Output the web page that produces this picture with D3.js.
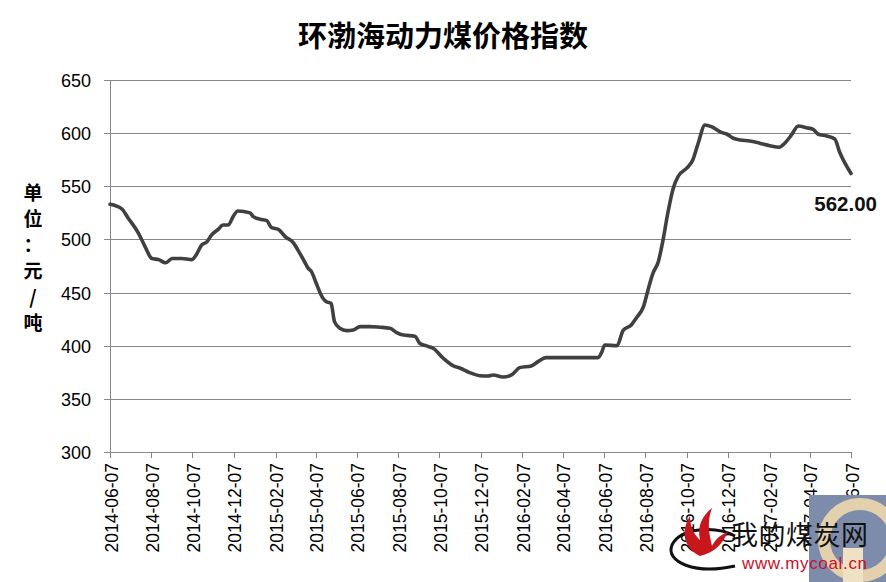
<!DOCTYPE html>
<html>
<head>
<meta charset="utf-8">
<script src="https://cdn.jsdelivr.net/npm/d3@7/dist/d3.min.js"></script>
<style>
  html, body { margin: 0; padding: 0; background: #fff; }
  svg { display: block; }
</style>
</head>
<body>
<svg id="chart" width="886" height="582"></svg>
<script>
// ---------------- data ----------------
const title = "环渤海动力煤价格指数";
const yAxisLabel = ["单", "位", "：", "元", "/", "吨"];
const yTicks = [300, 350, 400, 450, 500, 550, 600, 650];
const xTickLabels = [
  "2014-06-07","2014-08-07","2014-10-07","2014-12-07","2015-02-07","2015-04-07",
  "2015-06-07","2015-08-07","2015-10-07","2015-12-07","2016-02-07","2016-04-07",
  "2016-06-07","2016-08-07","2016-10-07","2016-12-07","2017-02-07","2017-04-07","2017-06-07"
];
const dates = [
  "2014-06-07","2014-06-24","2014-07-04","2014-07-19","2014-07-29","2014-08-08","2014-08-18","2014-08-28",
  "2014-09-07","2014-09-21","2014-10-06","2014-10-11","2014-10-21","2014-10-28","2014-11-04","2014-11-14",
  "2014-11-21","2014-11-29","2014-12-06","2014-12-13","2014-12-31","2015-01-05","2015-01-15","2015-01-25",
  "2015-02-01","2015-02-11","2015-02-21","2015-03-05","2015-03-12","2015-03-20","2015-03-27","2015-04-01",
  "2015-04-08","2015-04-18","2015-04-23","2015-04-30","2015-05-05","2015-05-13","2015-05-23","2015-06-02",
  "2015-06-12","2015-06-26","2015-07-11","2015-07-26","2015-08-05","2015-08-15","2015-09-01","2015-09-08",
  "2015-09-18","2015-09-28","2015-10-13","2015-10-28","2015-11-07","2015-11-21","2015-12-06","2015-12-18",
  "2015-12-26","2016-01-09","2016-01-22","2016-02-03","2016-02-20","2016-03-01","2016-03-13","2016-04-17",
  "2016-05-29","2016-06-03","2016-06-08","2016-06-26","2016-07-05","2016-07-17","2016-07-25","2016-08-04",
  "2016-08-11","2016-08-18","2016-08-26","2016-09-02","2016-09-09","2016-09-17","2016-09-24","2016-10-07",
  "2016-10-16","2016-10-24","2016-11-03","2016-11-13","2016-11-28","2016-12-05","2016-12-15","2016-12-25",
  "2017-01-08","2017-01-23","2017-02-07","2017-02-21","2017-03-01","2017-03-11","2017-03-21","2017-04-02",
  "2017-04-12","2017-04-19","2017-05-02","2017-05-14","2017-05-21","2017-06-07"
];
const values = [
  533, 529, 520, 506, 493, 482, 481, 478,
  482, 482, 481, 484, 495, 497.5, 504, 509.5,
  513.6, 513.6, 521.4, 526.8, 525, 521.4, 519, 517.6,
  511, 509.5, 502.6, 497, 490, 481, 473, 469.7,
  458.7, 444.6, 441.4, 440, 422.7, 416.4, 414.2, 414.8,
  418, 418, 417.4, 416.4, 412.3, 410, 409, 402.3,
  399.8, 397.6, 388.2, 381, 378.8, 374.7, 371.8, 371.5,
  372.5, 370.5, 372.5, 379.4, 381, 385, 388.8, 388.8,
  388.8, 393.5, 400.7, 400, 414.5, 419.5, 426.5, 436.8,
  453, 468, 479, 499.5, 524.6, 548, 559, 567,
  574.7, 590.5, 607.7, 606, 600.5, 599.2, 595.2, 593.6,
  592.6, 590.5, 588.2, 586.7, 590.5, 598.3, 606.7, 605.1,
  603.6, 599.2, 597.3, 594.5, 582.5, 562
];
const endLabel = "562.00";

// ---------------- chart ----------------
const svg = d3.select("#chart");
const parse = d3.timeParse("%Y-%m-%d");
const fmt = d3.timeFormat("%Y-%m-%d");
const data = dates.map((d, i) => ({ date: parse(d), value: values[i] }));

const plotL = 110, plotR = 851, plotT = 80, plotB = 452;
const x = d3.scaleTime()
  .domain([parse(xTickLabels[0]), parse(xTickLabels[xTickLabels.length - 1])])
  .range([plotL, plotR]);
const y = d3.scaleLinear().domain([300, 650]).range([plotB, plotT]);

const gridColor = "#868686";

// gridlines
svg.append("g")
  .attr("transform", `translate(${plotL},0)`)
  .call(d3.axisLeft(y).tickValues(yTicks.filter(v => v !== 300)).tickSize(-(plotR - plotL)).tickFormat(""))
  .call(g => g.select(".domain").remove())
  .call(g => g.selectAll("line").attr("stroke", gridColor).attr("stroke-width", 1).attr("shape-rendering", "crispEdges"));

// y axis
svg.append("g")
  .attr("transform", `translate(${plotL},0)`)
  .call(d3.axisLeft(y).tickValues(yTicks).tickSize(6).tickSizeOuter(0).tickPadding(13))
  .call(g => g.select(".domain").attr("stroke", gridColor).attr("shape-rendering", "crispEdges"))
  .call(g => g.selectAll("line").attr("stroke", gridColor).attr("shape-rendering", "crispEdges"))
  .call(g => g.selectAll("text")
    .attr("font-family", "'Liberation Sans', Arial, sans-serif")
    .attr("font-size", 18).attr("fill", "#000").attr("dy", "0.36em"));

// x axis
const xAxis = svg.append("g")
  .attr("transform", `translate(0,${plotB})`)
  .call(d3.axisBottom(x).tickValues(xTickLabels.map(parse)).tickFormat(fmt).tickSize(6).tickSizeOuter(0));
xAxis.select(".domain").attr("stroke", gridColor).attr("shape-rendering", "crispEdges");
xAxis.selectAll("line").attr("stroke", gridColor).attr("shape-rendering", "crispEdges");
xAxis.selectAll("text")
  .attr("font-family", "'Liberation Sans Narrow', 'Liberation Sans', Arial, sans-serif")
  .attr("font-size", 17.5).attr("fill", "#000")
  .attr("text-anchor", "end")
  .attr("dy", 0).attr("y", 0)
  .attr("transform", "translate(7,11) rotate(-90)");

// line
const line = d3.line()
  .x(d => x(d.date))
  .y(d => y(d.value))
  .curve(d3.curveMonotoneX);
svg.append("path")
  .datum(data)
  .attr("d", line)
  .attr("fill", "none")
  .attr("stroke", "#404040")
  .attr("stroke-width", 3.6)
  .attr("stroke-linejoin", "round")
  .attr("stroke-linecap", "round");

// end label
const last = data[data.length - 1];
svg.append("text")
  .attr("x", x(last.date) + 26)
  .attr("y", y(last.value) + 37)
  .attr("text-anchor", "end")
  .attr("font-family", "'Liberation Sans', Arial, sans-serif")
  .attr("font-weight", "bold")
  .attr("font-size", 20.5)
  .attr("fill", "#111")
  .text(endLabel);

// title
svg.append("text")
  .attr("x", 443)
  .attr("y", 47)
  .attr("text-anchor", "middle")
  .attr("font-family", "'Noto Sans CJK SC', sans-serif")
  .attr("font-weight", "bold")
  .attr("font-size", 29)
  .attr("fill", "#000")
  .text(title);

// y axis label (vertical, one char per row)
svg.append("g").selectAll("text")
  .data(yAxisLabel)
  .join("text")
  .attr("x", 33)
  .attr("y", (d, i) => 200 + i * 26)
  .attr("text-anchor", "middle")
  .attr("font-family", "'Noto Sans CJK SC', sans-serif")
  .attr("font-weight", "bold")
  .attr("font-size", 19)
  .attr("fill", "#000")
  .text(d => d);

// ---------------- watermark ----------------
const wm = svg.append("g");
wm.append("rect").attr("x", 809).attr("y", 495).attr("width", 77).attr("height", 87).attr("fill", "#7d8cab");
wm.append("circle").attr("cx", 860).attr("cy", 540).attr("r", 36)
  .attr("fill", "none").attr("stroke", "#e9d4ac").attr("stroke-width", 12).attr("opacity", 0.95);
wm.append("rect").attr("x", 843).attr("y", 548).attr("width", 20).attr("height", 34).attr("fill", "#efe2c4");
// swoosh
wm.append("path")
  .attr("d", "M735,536 C715,525 680,528 672,545 C665,562 695,575 735,566")
  .attr("fill", "none").attr("stroke", "#111").attr("stroke-width", 3);
// flame
wm.append("path")
  .attr("d", "M700,556 C684,548 680,532 690,516 C690,530 696,536 700,540 C697,526 702,516 712,508 C706,524 710,536 712,546 C716,538 722,534 728,532 C722,544 716,552 700,556 Z")
  .attr("fill", "#c8161d");
wm.append("text")
  .attr("x", 731).attr("y", 545)
  .attr("font-family", "'Noto Sans CJK SC', sans-serif")
  .attr("font-size", 27).attr("fill", "#111")
  .attr("textLength", 137)
  .text("我的煤炭网");
wm.append("text")
  .attr("x", 742).attr("y", 569)
  .attr("font-family", "'Liberation Sans', Arial, sans-serif")
  .attr("font-size", 17).attr("fill", "#c8102e")
  .attr("textLength", 125)
  .text("www.mycoal.cn");
</script>
</body>
</html>
